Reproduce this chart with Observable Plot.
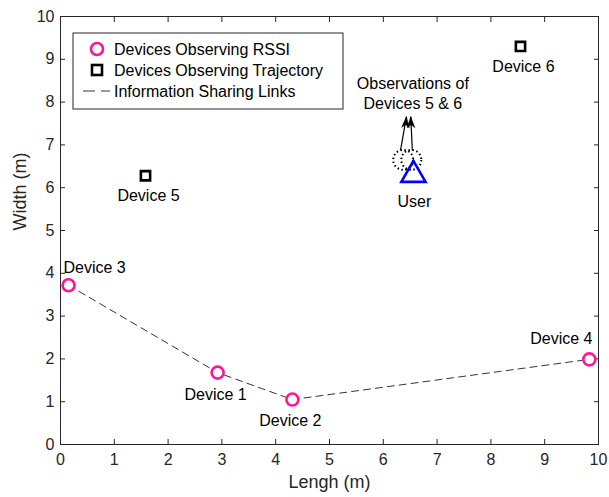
<!DOCTYPE html>
<html>
<head>
<meta charset="utf-8">
<script src="https://cdn.jsdelivr.net/npm/d3@7"></script>
<script src="https://cdn.jsdelivr.net/npm/@observablehq/plot@0.6"></script>
<style>
  body { margin: 0; background: #fff; }
  #chart { position: relative; width: 609px; height: 497px; }
  svg { font-family: "Liberation Sans", Arial, sans-serif; }
  svg g[aria-label$="tick label"] { font-size: 16px; }
</style>
</head>
<body>
<div id="chart"></div>
<script>
// RSSI devices (in link order)
const rssiNames = ["Device 3", "Device 1", "Device 2", "Device 4"];
const rssiX = [0.15, 2.92, 4.31, 9.83];
const rssiY = [3.72, 1.68, 1.05, 1.99];

// Trajectory devices
const trajNames = ["Device 5", "Device 6"];
const trajX = [1.58, 8.55];
const trajY = [6.28, 9.30];

// User
const userX = [6.56];
const userY = [6.30];

// Observations (dotted circles) and arrows
const obsX = [6.37, 6.52];
const obsY = [6.65, 6.65];
const arrowX1 = [6.32, 6.54];
const arrowY1 = [6.87, 6.87];
const arrowX2 = [6.43, 6.51];
const arrowY2 = [7.66, 7.66];

const xTicks = [0,1,2,3,4,5,6,7,8,9,10];
const yTicks = [0,1,2,3,4,5,6,7,8,9,10];

const legendLabels = ["Devices Observing RSSI", "Devices Observing Trajectory", "Information Sharing Links"];

const magenta = "#ff1493";
const rssi = rssiNames.map((n, i) => ({name: n, x: rssiX[i], y: rssiY[i]}));
const traj = trajNames.map((n, i) => ({name: n, x: trajX[i], y: trajY[i]}));
const user = userX.map((x, i) => ({name: "User", x, y: userY[i]}));
const obs = obsX.map((x, i) => ({x, y: obsY[i]}));
const arrows = arrowX1.map((x, i) => ({x1: x, y1: arrowY1[i], x2: arrowX2[i], y2: arrowY2[i]}));

// label offsets (styling)
const rssiLabelOff = {"Device 3": [26, -17], "Device 1": [-2, 22], "Device 2": [-2, 21], "Device 4": [-28, -20]};

// filled arrowhead symbol, tip at origin pointing up
const headSymbol = {
  draw(ctx) {
    ctx.moveTo(0, 0);
    ctx.lineTo(-3.8, 11);
    ctx.lineTo(0, 8);
    ctx.lineTo(3.8, 11);
    ctx.closePath();
  }
};

const plot = Plot.plot({
  width: 609,
  height: 497,
  marginLeft: 60,
  marginRight: 11,
  marginTop: 16,
  marginBottom: 53,
  style: {fontSize: "16px", fontFamily: "Liberation Sans, Arial, sans-serif", color: "#262626", background: "#fff"},
  x: {domain: [0, 10]},
  y: {domain: [0, 10]},
  marks: [
    Plot.frame({stroke: "#262626", strokeWidth: 1}),
    Plot.axisX({anchor: "bottom", ticks: xTicks, tickSize: -5, tickPadding: 14, label: null, fontSize: 16, fill: "#262626"}),
    Plot.axisX({anchor: "top", ticks: xTicks, tickSize: -5, tickFormat: () => "", label: null}),
    Plot.axisY({anchor: "left", ticks: yTicks, tickSize: -5, tickPadding: 11, label: null, fontSize: 16, fill: "#262626"}),
    Plot.axisY({anchor: "right", ticks: yTicks, tickSize: -5, tickFormat: () => "", label: null}),
    Plot.text(["Lengh (m)"], {frameAnchor: "bottom", dy: 43, fontSize: 18, fill: "#262626"}),
    Plot.text(["Width (m)"], {frameAnchor: "left", dx: -40, rotate: -90, fontSize: 18, fill: "#262626"}),
    Plot.line(rssi, {x: "x", y: "y", stroke: "black", strokeWidth: 0.8, strokeDasharray: "7,5"}),
    Plot.dot(rssi, {x: "x", y: "y", r: 6, stroke: magenta, strokeWidth: 2.6, fill: "white"}),
    ...rssi.map(d => Plot.text([d], {x: "x", y: "y", text: "name", dx: rssiLabelOff[d.name][0], dy: rssiLabelOff[d.name][1], fontSize: 16, fill: "black"})),
    Plot.dot(traj, {x: "x", y: "y", symbol: "square", r: 5.2, stroke: "black", strokeWidth: 2.6, fill: "white"}),
    Plot.text(traj, {x: "x", y: "y", text: "name", dx: 3, dy: 20, fontSize: 16, fill: "black"}),
    Plot.dot(obs, {x: "x", y: "y", r: 10, stroke: "black", strokeWidth: 2, strokeDasharray: "1.5,2.5", fill: "none"}),
    Plot.link(arrows, {x1: "x1", y1: "y1", x2: "x2", y2: "y2", stroke: "black", strokeWidth: 1.2}),
    Plot.dot(arrows, {x: "x2", y: "y2", symbol: headSymbol, fill: "black", stroke: "black", strokeWidth: 0.5,
      rotate: d => Math.atan2(d.x2 - d.x1, (d.y2 - d.y1) * 53.8 / 42.8 / 1) * 180 / Math.PI * 0.8}),
    Plot.dot(user, {x: "x", y: "y", symbol: "triangle", r: 9, stroke: "#0000ff", strokeWidth: 2.6, fill: "none"}),
    Plot.text(user, {x: "x", y: "y", text: "name", dx: 1, dy: 27, fontSize: 16, fill: "black"}),
    Plot.text(["Observations of\nDevices 5 & 6"], {x: 6.55, y: 8.23, lineHeight: 1.25, fontSize: 16, fill: "black"})
  ]
});

// Legend inside the axes
const svg = d3.select(plot);
const g = svg.append("g").attr("font-size", 16).attr("font-family", "Liberation Sans, Arial, sans-serif");
g.append("rect").attr("x", 73).attr("y", 33).attr("width", 270).attr("height", 76)
  .attr("fill", "white").attr("stroke", "#262626").attr("stroke-width", 1);
g.append("circle").attr("cx", 97).attr("cy", 49).attr("r", 6).attr("fill", "white")
  .attr("stroke", magenta).attr("stroke-width", 2.6);
g.append("rect").attr("x", 92).attr("y", 65).attr("width", 10).attr("height", 10).attr("fill", "white")
  .attr("stroke", "black").attr("stroke-width", 2.6);
g.append("line").attr("x1", 83).attr("x2", 110).attr("y1", 91).attr("y2", 91)
  .attr("stroke", "black").attr("stroke-width", 0.8).attr("stroke-dasharray", "12,6");
legendLabels.forEach((t, i) => {
  g.append("text").attr("x", 114).attr("y", 49 + 21 * i).attr("dy", "0.35em")
    .attr("text-anchor", "start").attr("fill", "black").text(t);
});

document.getElementById("chart").appendChild(plot);
</script>
</body>
</html>
